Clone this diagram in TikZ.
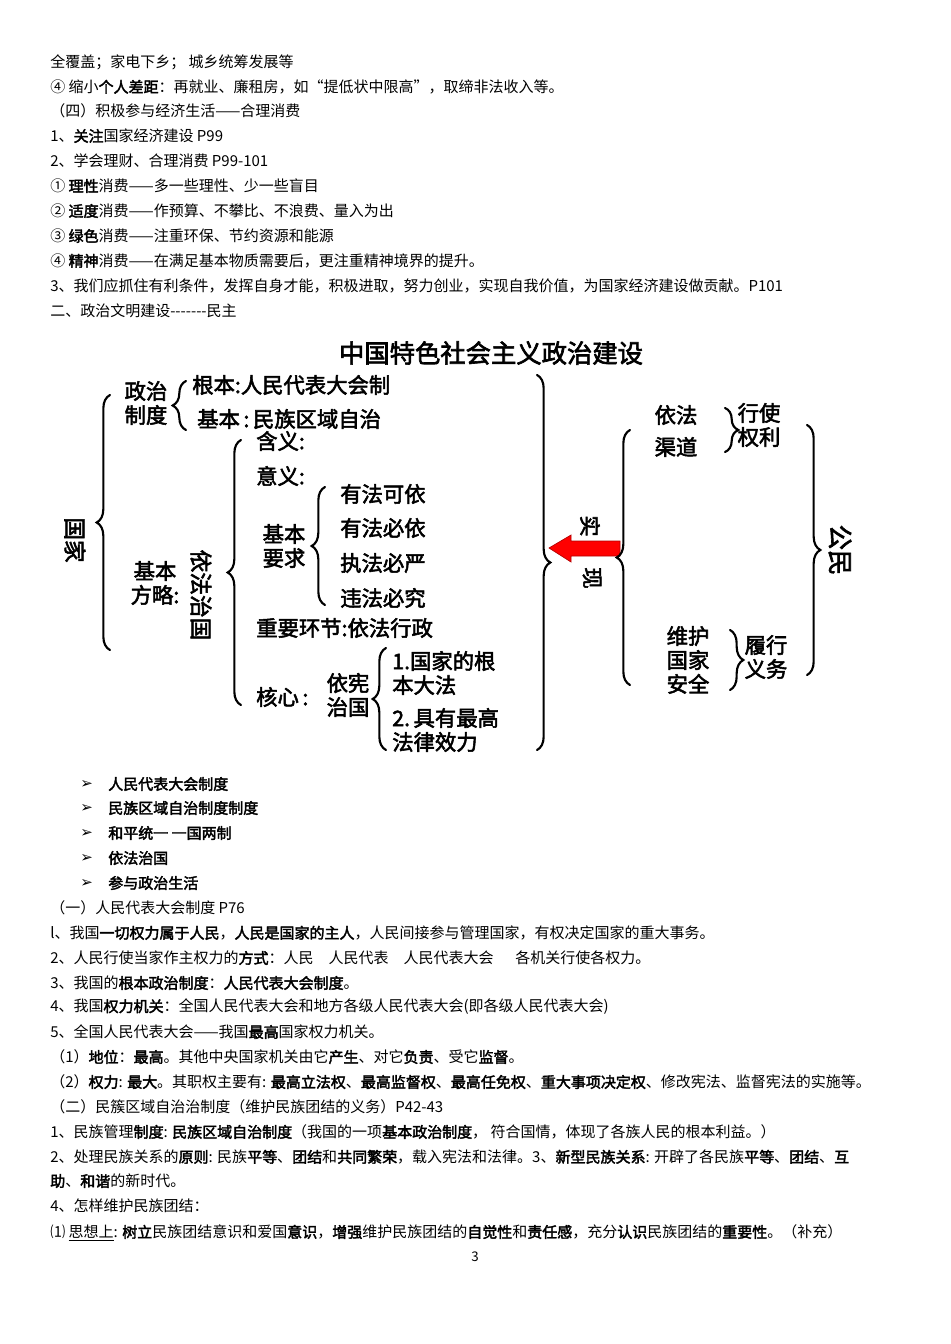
\documentclass[tikz,border=0pt]{standalone}
\usepackage{fontspec}
\setmainfont{Noto Sans CJK SC}[AutoFakeBold=2.5]
\newfontfamily\symf{DejaVu Sans}
\usetikzlibrary{decorations.pathreplacing}
\begin{document}
\begin{tikzpicture}[x=0.75pt,y=-0.75pt,
  body/.style={anchor=west,inner sep=0pt,font=\fontsize{11.25}{13}\selectfont},
  dg/.style={anchor=west,inner sep=0pt,font=\fontsize{16}{18}\selectfont\bfseries},
  dgc/.style={inner sep=0pt,font=\fontsize{16}{18}\selectfont\bfseries,align=center},
  vt/.style={inner sep=0pt,rotate=-90,font=\fontsize{17}{19}\selectfont\bfseries},
  br/.style={decorate,decoration={brace,amplitude=10pt,aspect=0.5},line width=1.6pt,line cap=round}]
\path (0,0) rectangle (950,1344);
% top text
\node[body] (t1) at (50,62) {全覆盖；家电下乡； 城乡统筹发展等};
\node[body] (t2) at (50,87) {④ 缩小\textbf{个人差距}：再就业、廉租房，如“提低状中限高”，取缔非法收入等。};
\node[body] (t3) at (50,111) {（四）积极参与经济生活——合理消费};
\node[body] (t4) at (50,136) {1、\textbf{关注}国家经济建设 P99};
\node[body] (t5) at (50,161) {2、学会理财、合理消费 P99-101};
\node[body] (t6) at (50,186) {① \textbf{理性}消费——多一些理性、少一些盲目};
\node[body] (t7) at (50,211) {② \textbf{适度}消费——作预算、不攀比、不浪费、量入为出};
\node[body] (t8) at (50,236) {③ \textbf{绿色}消费——注重环保、节约资源和能源};
\node[body] (t9) at (50,261) {④ \textbf{精神}消费——在满足基本物质需要后，更注重精神境界的提升。};
\node[body] (t10) at (50,286) {3、我们应抓住有利条件，发挥自身才能，积极进取，努力创业，实现自我价值，为国家经济建设做贡献。P101};
\node[body] (t11) at (50,311) {二、政治文明建设{-}{-}{-}{-}{-}{-}{-}民主};
% diagram
\node[inner sep=0pt,font=\fontsize{19}{21}\selectfont\bfseries] (title) at (491,353) {中国特色社会主义政治建设};
\node[vt] (guojia) at (75,540) {国家};
\draw[br] (110,650) -- (110,395);
\node[dgc] (zzzd) at (146,403) {政治\\制度};
\draw[br] (186,430) -- (186,381);
\node[dg] (gb1) at (192,385) {根本:人民代表大会制};
\node[dg] (jb1) at (197,419) {基本\,:\,民族区域自治};
\node[dgc] (jbfl) at (155,583) {基本\\方略:};
\node[vt] (yfzg) at (201,595) {依法治国};
\draw[br] (241,705) -- (241,440);
\node[dg] (hy) at (256,441) {含义:};
\node[dg] (yy) at (256,476) {意义:};
\node[dgc] (jbyq) at (284,546) {基本\\要求};
\draw[br] (325,605) -- (325,487);
\node[dg] (y1) at (340,494) {有法可依};
\node[dg] (y2) at (340,528) {有法必依};
\node[dg] (y3) at (340,563) {执法必严};
\node[dg] (y4) at (340,598) {违法必究};
\node[dg] (zyhj) at (256,628) {重要环节:依法行政};
\node[dg] (hx) at (256,697) {核心\,:};
\node[dgc] (yxzg) at (348,695) {依宪\\治国};
\draw[br] (386,750) -- (386,648);
\node[dg,align=left] (k1) at (392,673) {1.国家的根\\本大法};
\node[dg,align=left] (k2) at (392,730) {2.\,具有最高\\法律效力};
\draw[br] (537,375) -- (537,750);
% arrow
\fill[red,draw=red!70!black,line width=0.5pt] (549,548) -- (571,535) -- (571,541) -- (620,541) -- (620,556) -- (571,556) -- (571,562) -- cycle;
\node[vt,font=\fontsize{16}{18}\selectfont\bfseries] (shi) at (590,526) {实};
\node[vt,font=\fontsize{16}{18}\selectfont\bfseries] (xian) at (592,578) {现};
\draw[br] (630,685) -- (630,430);
\node[dgc] (yfqd) at (676,431) {依法\\[6pt]渠道};
\draw[br] (725,408) -- (725,452);
\node[dgc] (xsql) at (759,425) {行使\\权利};
\node[dgc] (whgj) at (688,660) {维护\\国家\\安全};
\draw[br] (730,630) -- (730,690);
\node[dgc] (lxyw) at (766,657) {履行\\义务};
\draw[br] (807,425) -- (807,675);
\node[vt,font=\fontsize{19}{21}\selectfont\bfseries] (gm) at (840,550) {公民};
% bullets
\foreach \yy/\tt in {784/人民代表大会制度,808/民族区域自治制度制度,833/和平统一\ 一国两制,858/依法治国,883/参与政治生活}{
  \node[body] at (80,\yy) {{\symf\bfseries ➢}};
  \node[body] at (108,\yy) {\textbf{\tt}};
}
% lower text
\node[body] (b1) at (50,908) {（一）人民代表大会制度 P76};
\node[body] (b2) at (50,933) {l、我国\textbf{一切权力属于人民}，\textbf{人民是国家的主人}，人民间接参与管理国家，有权决定国家的重大事务。};
\node[body] (b3) at (50,958) {2、人民行使当家作主权力的\textbf{方式}：人民\quad 人民代表\quad 人民代表大会\quad\ \ 各机关行使各权力。};
\node[body] (b4) at (50,983) {3、我国的\textbf{根本政治制度}：\textbf{人民代表大会制度}。};
\node[body] (b5) at (50,1007) {4、我国\textbf{权力机关}：全国人民代表大会和地方各级人民代表大会(即各级人民代表大会)};
\node[body] (b6) at (50,1032) {5、全国人民代表大会——我国\textbf{最高}国家权力机关。};
\node[body] (b7) at (50,1057) {（1）\textbf{地位}：\textbf{最高}。其他中央国家机关由它\textbf{产生}、对它\textbf{负责}、受它\textbf{监督}。};
\node[body] (b8) at (50,1082) {（2）\textbf{权力}: \textbf{最大}。其职权主要有: \textbf{最高立法权}、\textbf{最高监督权}、\textbf{最高任免权}、\textbf{重大事项决定权}、修改宪法、监督宪法的实施等。};
\node[body] (b9) at (50,1107) {（二）民簇区域自治治制度（维护民族团结的义务）P42-43};
\node[body] (b10) at (50,1132) {1、民族管理\textbf{制度}: \textbf{民族区域自治制度}（我国的一项\textbf{基本政治制度}， 符合国情，体现了各族人民的根本利益。）};
\node[body] (b11) at (50,1157) {2、处理民族关系的\textbf{原则}: 民族\textbf{平等}、\textbf{团结}和\textbf{共同繁荣}，载入宪法和法律。3、\textbf{新型民族关系}: 开辟了各民族\textbf{平等}、\textbf{团结}、\textbf{互}};
\node[body] (b12) at (50,1181) {\textbf{助}、\textbf{和谐}的新时代。};
\node[body] (b13) at (50,1206) {4、怎样维护民族团结：};
\node[body] (b14) at (50,1233) {⑴ \underline{思想上}: \textbf{树立}民族团结意识和爱国\textbf{意识}，\textbf{增强}维护民族团结的\textbf{自觉性}和\textbf{责任感}，充分\textbf{认识}民族团结的\textbf{重要性}。（补充）};
\node[inner sep=0pt,font=\fontsize{10}{12}\selectfont] (pg) at (475,1257) {3};
\end{tikzpicture}
\end{document}
